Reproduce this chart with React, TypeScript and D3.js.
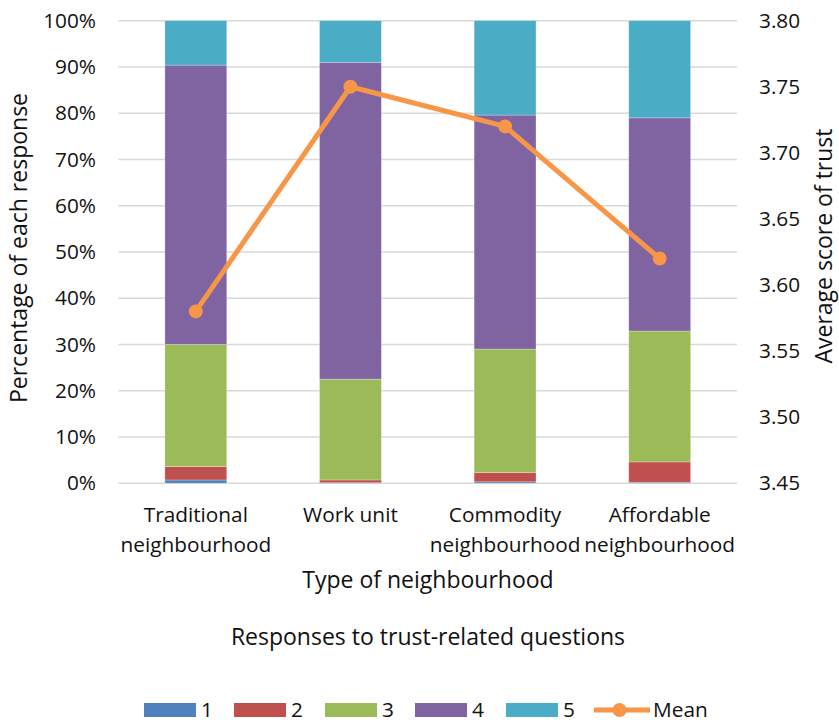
import React from "react";
import * as d3 from "d3";

const categories = ["Traditional neighbourhood", "Work unit", "Commodity neighbourhood", "Affordable neighbourhood"];
const categoryLines = [["Traditional", "neighbourhood"], ["Work unit"], ["Commodity", "neighbourhood"], ["Affordable", "neighbourhood"]];
const seriesNames = ["1", "2", "3", "4", "5"];
const resp1 = [0.7, 0.1, 0.3, 0.2];
const resp2 = [2.9, 0.6, 2.0, 4.4];
const resp3 = [26.4, 21.8, 26.7, 28.3];
const resp4 = [60.4, 68.5, 50.6, 46.1];
const resp5 = [9.6, 9.0, 20.4, 21.0];
const meanValues = [3.58, 3.75, 3.72, 3.62];
const leftTicks = [0, 10, 20, 30, 40, 50, 60, 70, 80, 90, 100];
const rightTicks = [3.45, 3.5, 3.55, 3.6, 3.65, 3.7, 3.75, 3.8];
const colors = ["#4F81BD", "#C0504D", "#9BBB59", "#8064A2", "#4BACC6"];
const lineColor = "#F79646";

const W = 839;
const H = 722;
const plot = { left: 118.5, right: 737, top: 20.7, bottom: 483.2 };
const FONT = "'Open Sans', Lato, sans-serif";
const TXT = "#111";
const TICK_FS = 20.8;
const TITLE_FS = 23;

export default function App() {
  const x = d3.scaleBand<string>().domain(categories).range([plot.left, plot.right]).paddingInner(0.6).paddingOuter(0.3);
  const y = d3.scaleLinear().domain([0, 100]).range([plot.bottom, plot.top]);
  const y2 = d3.scaleLinear().domain([3.45, 3.8]).range([plot.bottom, plot.top]);

  const rows = categories.map((c, i) => ({
    cat: c,
    "1": resp1[i],
    "2": resp2[i],
    "3": resp3[i],
    "4": resp4[i],
    "5": resp5[i],
  }));
  const stacked = d3.stack<any>().keys(seriesNames)(rows);

  const line = d3
    .line<number>()
    .x((_, i) => (x(categories[i]) as number) + x.bandwidth() / 2)
    .y((d) => y2(d));

  const legendItems = [
    { x: 144, label: "1", color: colors[0] },
    { x: 234, label: "2", color: colors[1] },
    { x: 325, label: "3", color: colors[2] },
    { x: 415, label: "4", color: colors[3] },
    { x: 506, label: "5", color: colors[4] },
  ];

  return (
    <svg width={W} height={H} style={{ position: "absolute", left: 0, top: 0, background: "#fff" }} fontFamily={FONT}>
      <rect x={0} y={0} width={W} height={H} fill="#fff" />
      {leftTicks.map((t) => (
        <line key={"g" + t} x1={plot.left} x2={plot.right} y1={y(t)} y2={y(t)} stroke="#d9d9d9" strokeWidth={1.5} />
      ))}
      {stacked.map((s, si) => (
        <g key={"s" + si} fill={colors[si]}>
          {s.map((d, i) => (
            <rect
              key={i}
              x={x(categories[i])}
              width={x.bandwidth()}
              y={y(d[1])}
              height={Math.max(0, y(d[0]) - y(d[1]))}
              stroke="#ffffff"
              strokeOpacity={0.35}
              strokeWidth={0.75}
            />
          ))}
        </g>
      ))}
      <path d={line(meanValues) || ""} fill="none" stroke={lineColor} strokeWidth={5} strokeLinejoin="round" />
      {meanValues.map((v, i) => (
        <circle key={"m" + i} cx={(x(categories[i]) as number) + x.bandwidth() / 2} cy={y2(v)} r={7} fill={lineColor} />
      ))}
      {leftTicks.map((t) => (
        <text key={"lt" + t} x={96} y={y(t)} dy="0.35em" textAnchor="end" fontSize={TICK_FS} fill={TXT}>
          {t + "%"}
        </text>
      ))}
      {rightTicks.map((t) => (
        <text key={"rt" + t} x={759} y={y2(t)} dy="0.35em" textAnchor="start" fontSize={TICK_FS} fill={TXT}>
          {t.toFixed(2)}
        </text>
      ))}
      {categoryLines.map((lines, i) =>
        lines.map((ln, j) => (
          <text
            key={"c" + i + j}
            x={(x(categories[i]) as number) + x.bandwidth() / 2}
            y={522 + j * 30}
            textAnchor="middle"
            fontSize={TICK_FS}
            fill={TXT}
          >
            {ln}
          </text>
        ))
      )}
      <text x={428} y={588} textAnchor="middle" fontSize={TITLE_FS} fill={TXT}>
        Type of neighbourhood
      </text>
      <text transform={`translate(27,248) rotate(-90)`} textAnchor="middle" fontSize={TITLE_FS} fill={TXT}>
        Percentage of each response
      </text>
      <text transform={`translate(832,246) rotate(-90)`} textAnchor="middle" fontSize={TITLE_FS} fill={TXT}>
        Average score of trust
      </text>
      <text x={428} y={645} textAnchor="middle" fontSize={TITLE_FS} fill={TXT}>
        Responses to trust-related questions
      </text>
      {legendItems.map((it) => (
        <g key={"lg" + it.label}>
          <rect x={it.x} y={703} width={52} height={14} fill={it.color} />
          <text x={it.x + 57} y={717} fontSize={TICK_FS} fill={TXT}>
            {it.label}
          </text>
        </g>
      ))}
      <line x1={594} x2={650} y1={710} y2={710} stroke={lineColor} strokeWidth={5} />
      <circle cx={619.5} cy={710} r={7} fill={lineColor} />
      <text x={653} y={717} fontSize={TICK_FS} fill={TXT}>
        Mean
      </text>
    </svg>
  );
}
